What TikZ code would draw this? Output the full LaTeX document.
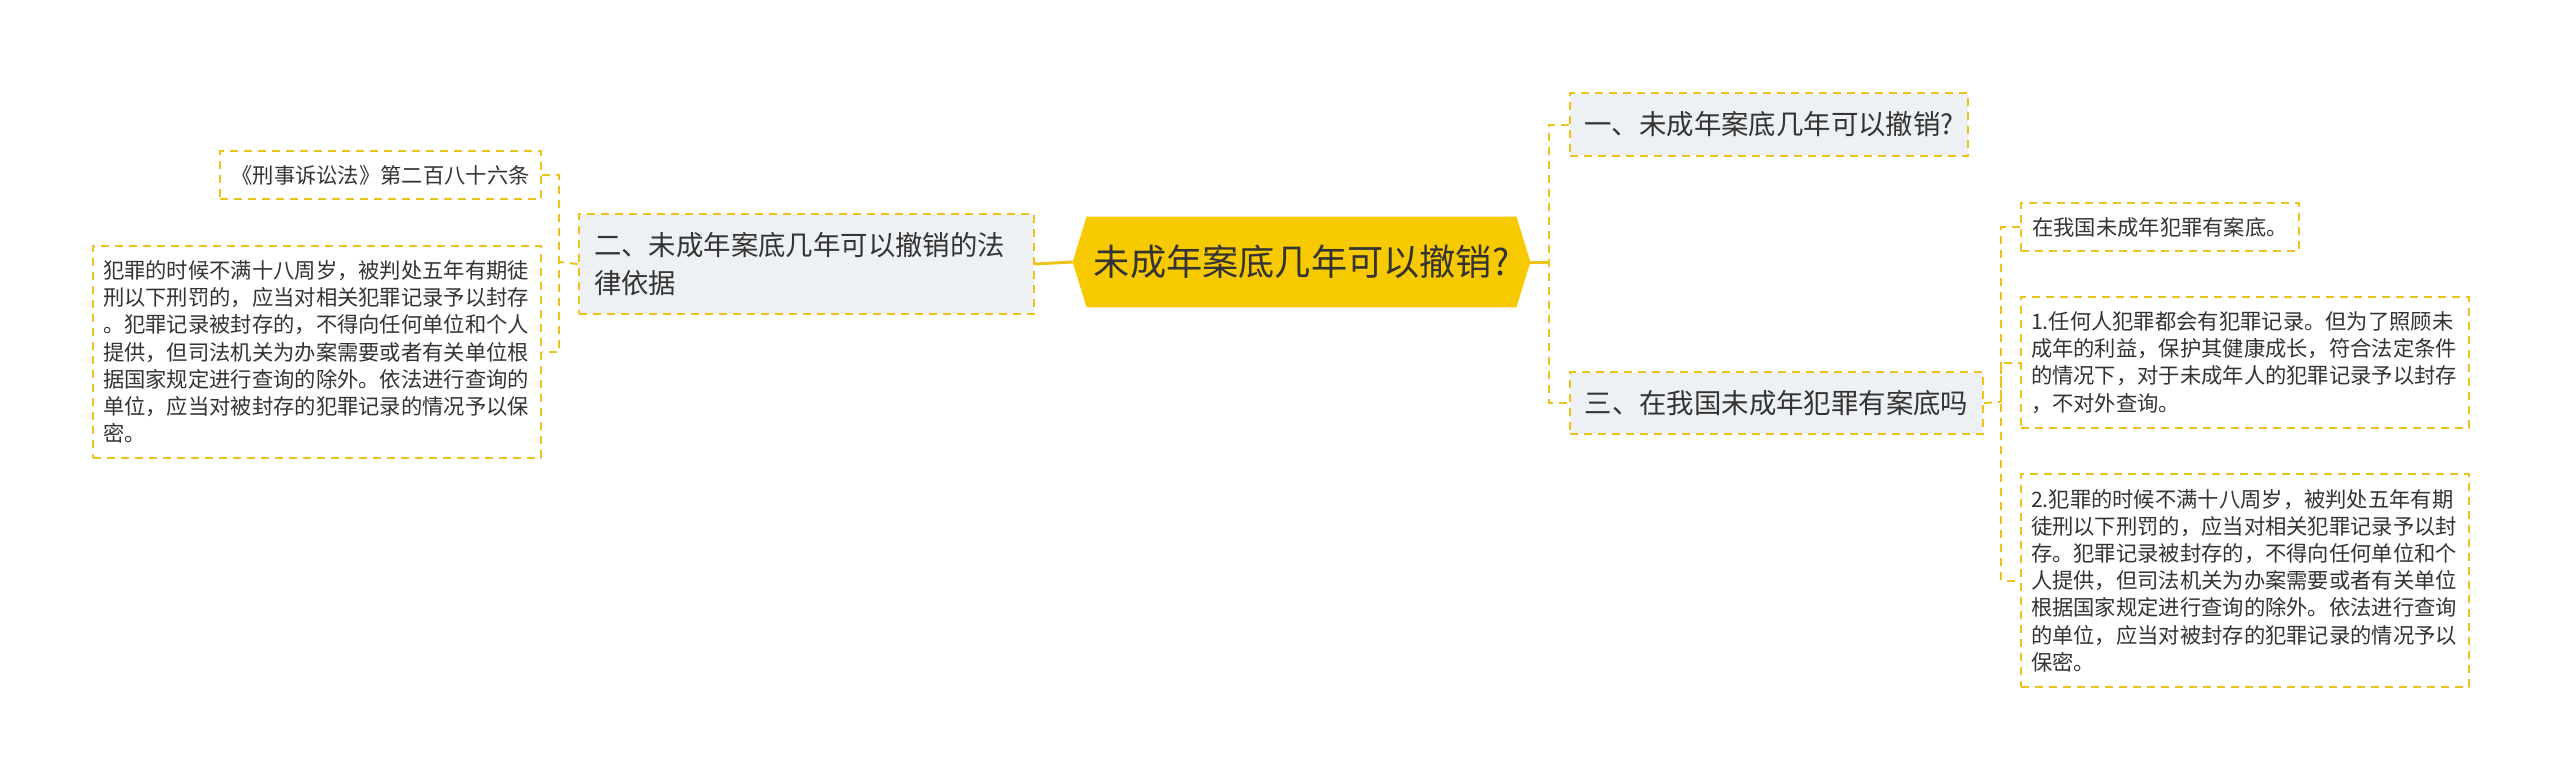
\documentclass[tikz,border=0pt]{standalone}
\usepackage{fontspec}
\setmainfont{Noto Sans CJK SC}
\usetikzlibrary{backgrounds}
\definecolor{goldline}{HTML}{EEC21D}
\definecolor{rootfill}{HTML}{F6C900}
\definecolor{boxfill}{HTML}{EEF1F4}
\definecolor{inkgray}{HTML}{333333}
\begin{document}
\begin{tikzpicture}[x=0.5pt, y=-0.5pt,
   every node/.style={inner sep=0pt, text=inkgray},
   root/.style={minimum width=228.5pt, minimum height=45pt,
                font=\fontsize{18.1pt}{22pt}\selectfont},
   topic/.style={draw=goldline, line width=1pt, dash pattern=on 4pt off 3pt,
                 fill=boxfill, anchor=north west,
                 font=\fontsize{13.7pt}{19pt}\selectfont},
   leaf/.style={draw=goldline, line width=1pt, dash pattern=on 4pt off 3pt,
                fill=white, anchor=north west,
                font=\fontsize{10.65pt}{13.6pt}\selectfont},
   para/.style={leaf, text width=214pt, inner xsep=5pt, align=left},
   link/.style={goldline, line width=1pt, dash pattern=on 4pt off 3pt},
   trunk/.style={goldline, line width=1.5pt}]

\useasboundingbox (0,0) rectangle (2560,777);

% centre
\node[root] (c) at (1301.5,262) {未成年案底几年可以撤销?};
\begin{scope}[on background layer]
  \fill[rootfill] (c.west) -- ([xshift=7pt]c.north west) -- ([xshift=-7pt]c.north east)
     -- (c.east) -- ([xshift=-7pt]c.south east) -- ([xshift=7pt]c.south west) -- cycle;
\end{scope}

% left branch
\node[topic, text width=212.5pt, inner xsep=7.5pt, align=left, minimum height=50pt]
   (e2) at (578,213) {二、未成年案底几年可以撤销的法\\律依据};
\node[leaf, minimum width=160.5pt, minimum height=24pt] (law) at (219,150)
   {《刑事诉讼法》第二百八十六条};
\node[para, minimum height=106pt] (txt) at (92,245)
   {犯罪的时候不满十八周岁，被判处五年有期徒\\
    刑以下刑罚的，应当对相关犯罪记录予以封存\\
    。犯罪记录被封存的，不得向任何单位和个人\\
    提供，但司法机关为办案需要或者有关单位根\\
    据国家规定进行查询的除外。依法进行查询的\\
    单位，应当对被封存的犯罪记录的情况予以保\\
    密。};

% right branches
\node[topic, minimum width=199pt, minimum height=31.5pt] (e1) at (1569,92)
   {一、未成年案底几年可以撤销?};
\node[topic, minimum width=206.5pt, minimum height=31pt] (e3) at (1569,371)
   {三、在我国未成年犯罪有案底吗};
\node[leaf, minimum width=139pt, minimum height=24pt] (la) at (2020,202)
   {在我国未成年犯罪有案底。};
\node[para, minimum height=65.5pt] (lb) at (2020,296)
   {1.任何人犯罪都会有犯罪记录。但为了照顾未\\
    成年的利益，保护其健康成长，符合法定条件\\
    的情况下，对于未成年人的犯罪记录予以封存\\
    ，不对外查询。};
\node[para, minimum height=106.5pt] (lc) at (2020,473)
   {2.犯罪的时候不满十八周岁，被判处五年有期\\
    徒刑以下刑罚的，应当对相关犯罪记录予以封\\
    存。犯罪记录被封存的，不得向任何单位和个\\
    人提供，但司法机关为办案需要或者有关单位\\
    根据国家规定进行查询的除外。依法进行查询\\
    的单位，应当对被封存的犯罪记录的情况予以\\
    保密。};

% connectors
\coordinate (lj) at (559,262);
\coordinate (rj) at (1549,262);
\coordinate (rk) at (2001,402);

\draw[trunk] (c.west) -- (e2.east);
\draw[link] (e2.west) -- (lj);
\draw[link] (law.east) -| (lj) |- (txt.east);
\draw[trunk] (c.east) -- (rj);
\draw[link] (e1.west) -| (rj) |- (e3.west);
\draw[link] (e3.east) -- (rk);
\draw[link] (la.west) -| (rk) |- (lc.west);
\draw[link] (rk) |- (lb.west);

\end{tikzpicture}
\end{document}
